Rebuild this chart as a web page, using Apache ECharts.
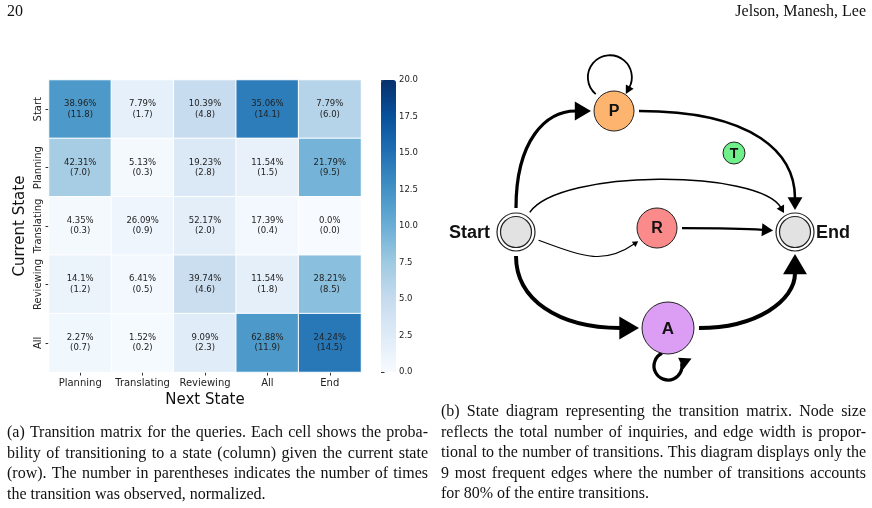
<!DOCTYPE html>
<html>
<head>
<meta charset="utf-8">
<title>Transition matrix and state diagram</title>
<script src="https://cdn.jsdelivr.net/npm/echarts@6/dist/echarts.min.js"></script>
<style>
  html, body { margin: 0; padding: 0; background: #fff; }
  #main { width: 872px; height: 508px; }
</style>
</head>
<body>
<div id="main"></div>
<script>
// ---- (a) transition matrix ----
var nextStates = ["Planning", "Translating", "Reviewing", "All", "End"];
var currentStates = ["Start", "Planning", "Translating", "Reviewing", "All"];
// probability (%) per row
var probs = [
  [38.96, 7.79, 10.39, 35.06, 7.79],
  [42.31, 5.13, 19.23, 11.54, 21.79],
  [4.35, 26.09, 52.17, 17.39, 0.0],
  [14.1, 6.41, 39.74, 11.54, 28.21],
  [2.27, 1.52, 9.09, 62.88, 24.24]
];
// normalized counts (colour value)
var counts = [
  [11.8, 1.7, 4.8, 14.1, 6.0],
  [7.0, 0.3, 2.8, 1.5, 9.5],
  [0.3, 0.9, 2.0, 0.4, 0.0],
  [1.2, 0.5, 4.6, 1.8, 8.5],
  [0.7, 0.2, 2.3, 11.9, 14.5]
];
var colorbarTicks = [0, 2.5, 5, 7.5, 10, 12.5, 15, 17.5, 20];

// ---- (b) state diagram ----
var stateNodes = ["Start", "P", "R", "A", "T", "End"];
// [source, target, transitions]
var stateEdges = [
  ["Start", "P", 11.8],
  ["P", "P", 7.0],
  ["P", "End", 9.5],
  ["Start", "End", 6.0],
  ["Start", "R", 4.8],
  ["R", "End", 8.5],
  ["Start", "A", 14.1],
  ["A", "A", 11.9],
  ["A", "End", 14.5]
];

// captions / header
var headerLeft = "20";
var headerRight = "Jelson, Manesh, Lee";
var captionA = [
  "(a) Transition matrix for the queries. Each cell shows the proba-",
  "bility of transitioning to a state (column) given the current state",
  "(row). The number in parentheses indicates the number of times",
  "the transition was observed, normalized."
];
var captionB = [
  "(b) State diagram representing the transition matrix. Node size",
  "reflects the total number of inquiries, and edge width is propor-",
  "tional to the number of transitions. This diagram displays only the",
  "9 most frequent edges where the number of transitions accounts",
  "for 80% of the entire transitions."
];

// layout of the diagram (diagram units = px inside its grid)
var nodeLayout = {
  Start: { x: 76, y: 192, size: 38, color: "#e2e2e2", ring: true, label: "left" },
  End:   { x: 355, y: 192, size: 38, color: "#e2e2e2", ring: true, label: "right" },
  P:     { x: 174, y: 71, size: 40, color: "#fdb46f", font: 16 },
  R:     { x: 217, y: 188, size: 40, color: "#fb8a8a", font: 16 },
  A:     { x: 228, y: 288, size: 52, color: "#dc9ef5", font: 17 },
  T:     { x: 294, y: 113, size: 22, color: "#6ff08a", font: 14 }
};
// exit angle at source, entry angle at target (deg), handle tensions
var edgePorts = {
  "Start>P":   { out: -90, in: 180, t0: 0.7, t1: 0.5 },
  "P>End":     { out: 0, in: -90, t0: 0.75, t1: 0.5 },
  "Start>End": { out: -55, in: -120, t0: 0.36, t1: 0.36 },
  "Start>R":   { out: 20, in: 145, t0: 0.5, t1: 0.5 },
  "R>End":     { out: 0, in: 184, t0: 0.3, t1: 0.3 },
  "Start>A":   { out: 90, in: 180, t0: 0.6, t1: 0.6 },
  "A>End":     { out: 0, in: 90, t0: 0.6, t1: 0.5 }
};
// self loops: centre offset from node, radius, arc from a0 to a1 (deg), arrow
var loopLayout = {
  P: { angle: -97, dist: 34, r: 22, a0: 130, a1: 388, arrowScale: 0.85, arrowDir: null },
  A: { angle: 90, dist: 38, r: 14, a0: -115, a1: -372, arrowScale: 0.65, arrowDir: -25 }
};

var blues = ["#f7fbff", "#deebf7", "#c6dbef", "#9ecae1", "#6baed6",
             "#4292c6", "#2171b5", "#08519c", "#08306b"];

var captionFont = '16px "Liberation Serif", "DejaVu Serif", serif';

function fmtPct(v) { return (v % 1 === 0 ? v.toFixed(1) : String(v)) + "%"; }
function edgeWidth(c) { return 0.3 * c - 0.3; }
function arrowWidth(c) { return 1.8 * c - 2.2; }
function unit(deg) { var a = deg * Math.PI / 180; return [Math.cos(a), Math.sin(a)]; }

var heatData = [];
for (var i = 0; i < currentStates.length; i++) {
  for (var j = 0; j < nextStates.length; j++) {
    heatData.push([j, i, counts[i][j]]);
  }
}

function arrowHead(tip, dir, len, wid) {
  // dir points from tip back towards the line
  var base = [tip[0] + dir[0] * len, tip[1] + dir[1] * len];
  var n = [-dir[1], dir[0]];
  return {
    type: "polygon",
    shape: { points: [tip, [base[0] + n[0] * wid / 2, base[1] + n[1] * wid / 2], [base[0] - n[0] * wid / 2, base[1] - n[1] * wid / 2]] },
    style: { fill: "#000" }
  };
}

function renderEdge(params, api) {
  var e = stateEdges[params.dataIndex];
  var from = nodeLayout[e[0]], to = nodeLayout[e[1]];
  var S = api.coord([from.x, from.y]);
  var lw = edgeWidth(e[2]);
  var lineStyle = { stroke: "#000", lineWidth: lw, fill: null };
  var children = [];

  if (e[0] === e[1]) {
    // self loop
    var lp = loopLayout[e[0]];
    var oc = unit(lp.angle);
    var C = [S[0] + oc[0] * lp.dist, S[1] + oc[1] * lp.dist];
    var a0 = lp.a0 * Math.PI / 180, a1 = lp.a1 * Math.PI / 180;
    var s = a1 > a0 ? 1 : -1;
    var law = arrowWidth(e[2]) * lp.arrowScale, lal = law * 0.95;
    var endPt = [C[0] + lp.r * Math.cos(a1), C[1] + lp.r * Math.sin(a1)];
    var d = lp.arrowDir == null ? [-s * Math.sin(a1), s * Math.cos(a1)] : unit(lp.arrowDir);
    var tipL = [endPt[0] + d[0] * (lal - 1), endPt[1] + d[1] * (lal - 1)];
    children.push({
      type: "arc",
      shape: { cx: C[0], cy: C[1], r: lp.r, startAngle: a0, endAngle: a1, clockwise: s > 0 },
      style: lineStyle
    });
    children.push(arrowHead(tipL, [-d[0], -d[1]], lal, law));
    return { type: "group", children: children };
  }

  var port = edgePorts[e[0] + ">" + e[1]];
  var T = api.coord([to.x, to.y]);
  var aw = arrowWidth(e[2]), al = aw * 0.85;
  var uo = unit(port.out), ui = unit(port["in"]);
  var p0 = [S[0] + uo[0] * (from.size / 2 + 5), S[1] + uo[1] * (from.size / 2 + 5)];
  var tip = [T[0] + ui[0] * (to.size / 2 + 3), T[1] + ui[1] * (to.size / 2 + 3)];
  var pe = [tip[0] + ui[0] * (al - 1), tip[1] + ui[1] * (al - 1)];
  var ch = [pe[0] - p0[0], pe[1] - p0[1]];
  var h0 = port.t0 * Math.abs(ch[0] * uo[0] + ch[1] * uo[1]);
  var h1 = port.t1 * Math.abs(ch[0] * ui[0] + ch[1] * ui[1]);
  children.push({
    type: "bezierCurve",
    shape: {
      x1: p0[0], y1: p0[1],
      cpx1: p0[0] + uo[0] * h0, cpy1: p0[1] + uo[1] * h0,
      cpx2: pe[0] + ui[0] * h1, cpy2: pe[1] + ui[1] * h1,
      x2: pe[0], y2: pe[1]
    },
    style: lineStyle
  });
  children.push(arrowHead(tip, ui, al, aw));
  return { type: "group", children: children };
}

function renderNode(params, api) {
  var name = stateNodes[params.dataIndex];
  var nd = nodeLayout[name];
  var c = api.coord([nd.x, nd.y]);
  var r = nd.size / 2;
  var children = [];
  if (nd.ring) {
    children.push({ type: "circle", shape: { cx: c[0], cy: c[1], r: r }, style: { fill: "#fff", stroke: "#222", lineWidth: 1.2 } });
    children.push({ type: "circle", shape: { cx: c[0], cy: c[1], r: r - 3.5 }, style: { fill: nd.color, stroke: "#222", lineWidth: 1.2 } });
    var left = nd.label === "left";
    children.push({
      type: "text",
      style: {
        text: name, x: c[0] + (left ? -(r + 7) : r + 2), y: c[1] + 1,
        align: left ? "right" : "left", verticalAlign: "middle",
        font: 'bold 18px "Liberation Sans", Arial, sans-serif', fill: "#111"
      }
    });
  } else {
    children.push({ type: "circle", shape: { cx: c[0], cy: c[1], r: r }, style: { fill: nd.color, stroke: "#222", lineWidth: 1 } });
    children.push({
      type: "text",
      style: {
        text: name, x: c[0], y: c[1] + 1, align: "center", verticalAlign: "middle",
        font: "bold " + nd.font + 'px "Liberation Sans", Arial, sans-serif', fill: "#111"
      }
    });
  }
  return { type: "group", children: children };
}

// caption / header texts
var graphics = [];
var measureCtx = document.createElement("canvas").getContext("2d");
function addText(txt, x, y, align) {
  graphics.push({
    type: "text", silent: true,
    style: {
      text: txt, x: x, y: y, align: align || "left", verticalAlign: "middle",
      textAlign: align || "left", textVerticalAlign: "middle",
      font: captionFont, fill: "#111"
    }
  });
}
// justified caption line: words spread to fill the column width
function addLine(txt, x, y, width, justify) {
  if (!justify) { addText(txt, x, y, "left"); return; }
  measureCtx.font = captionFont;
  var words = txt.split(" ");
  var widths = words.map(function (w) { return measureCtx.measureText(w).width; });
  var total = widths.reduce(function (a, b) { return a + b; }, 0);
  var gap = (width - total) / (words.length - 1);
  var cx = x;
  words.forEach(function (w, k) { addText(w, cx, y, "left"); cx += widths[k] + gap; });
}
addText(headerLeft, 7, 12, "left");
addText(headerRight, 866, 12, "right");
captionA.forEach(function (line, k) { addLine(line, 7, 433 + k * 20.5, 421, k < captionA.length - 1); });
captionB.forEach(function (line, k) { addLine(line, 441, 412 + k * 20.5, 425, k < captionB.length - 1); });

var chart = echarts.init(document.getElementById("main"), null, { renderer: "canvas" });

chart.setOption({
  animation: false,
  backgroundColor: "#fff",
  textStyle: { fontFamily: "DejaVu Sans" },
  graphic: graphics,
  grid: [
    { left: 49, top: 80, width: 312, height: 292, outerBoundsMode: "none", containLabel: false },
    { left: 381, top: 80, width: 15, height: 292, outerBoundsMode: "none", containLabel: false },
    { left: 440, top: 40, width: 432, height: 360, outerBoundsMode: "none", containLabel: false }
  ],
  xAxis: [
    {
      gridIndex: 0, type: "category", data: nextStates,
      axisLine: { show: false },
      axisTick: { show: true, alignWithLabel: true, length: 3.5, lineStyle: { color: "#333" } },
      axisLabel: { fontSize: 10, color: "#222", margin: 6, interval: 0, hideOverlap: false, fontFamily: "DejaVu Sans" },
      splitLine: { show: false }, splitArea: { show: false },
      name: "Next State", nameLocation: "middle", nameGap: 20,
      nameTextStyle: { fontSize: 15, color: "#111", fontFamily: "DejaVu Sans" }
    },
    { gridIndex: 1, type: "value", show: false },
    { gridIndex: 2, type: "value", min: 0, max: 432, show: false }
  ],
  yAxis: [
    {
      gridIndex: 0, type: "category", data: currentStates, inverse: true,
      axisLine: { show: false },
      axisTick: { show: true, alignWithLabel: true, length: 3.5, lineStyle: { color: "#333" } },
      axisLabel: { fontSize: 10, color: "#222", margin: 6, rotate: 90, interval: 0, hideOverlap: false, fontFamily: "DejaVu Sans" },
      splitLine: { show: false }, splitArea: { show: false },
      name: "Current State", nameLocation: "middle", nameRotate: 90, nameGap: 21,
      nameTextStyle: { fontSize: 15, color: "#111", fontFamily: "DejaVu Sans" }
    },
    {
      gridIndex: 1, type: "value", position: "right",
      min: colorbarTicks[0], max: colorbarTicks[colorbarTicks.length - 1],
      interval: colorbarTicks[1] - colorbarTicks[0],
      axisLine: { show: false },
      axisTick: { show: true, length: 3.5, lineStyle: { color: "#333" } },
      axisLabel: {
        fontSize: 8.5, color: "#222", margin: 3, fontFamily: "DejaVu Sans",
        formatter: function (v) { return v.toFixed(1); }
      },
      splitLine: { show: false }
    },
    { gridIndex: 2, type: "value", min: 0, max: 360, inverse: true, show: false }
  ],
  visualMap: {
    type: "continuous", min: 0, max: 20, seriesIndex: 0, dimension: 2,
    calculable: false, realtime: false, hoverLink: false,
    left: 381, top: 80, itemWidth: 15, itemHeight: 292, padding: 0,
    inRange: { color: blues },
    textStyle: { color: "transparent" }
  },
  series: [
    {
      type: "heatmap", xAxisIndex: 0, yAxisIndex: 0, data: heatData,
      itemStyle: { borderColor: "#fff", borderWidth: 1 },
      label: {
        show: true, fontSize: 8.5, lineHeight: 10.5, color: "#222", fontFamily: "DejaVu Sans",
        formatter: function (p) {
          var jj = p.data[0], ii = p.data[1];
          return fmtPct(probs[ii][jj]) + "\n(" + counts[ii][jj].toFixed(1) + ")";
        }
      },
      emphasis: { disabled: true }
    },
    {
      type: "custom", coordinateSystem: "cartesian2d", xAxisIndex: 2, yAxisIndex: 2,
      silent: true,
      data: stateEdges.map(function (e) { return [nodeLayout[e[0]].x, nodeLayout[e[0]].y, e[2]]; }),
      encode: { x: 0, y: 1 },
      renderItem: renderEdge
    },
    {
      type: "custom", coordinateSystem: "cartesian2d", xAxisIndex: 2, yAxisIndex: 2,
      silent: true,
      data: stateNodes.map(function (nm) { return [nodeLayout[nm].x, nodeLayout[nm].y]; }),
      encode: { x: 0, y: 1 },
      renderItem: renderNode
    }
  ]
});
</script>
</body>
</html>
